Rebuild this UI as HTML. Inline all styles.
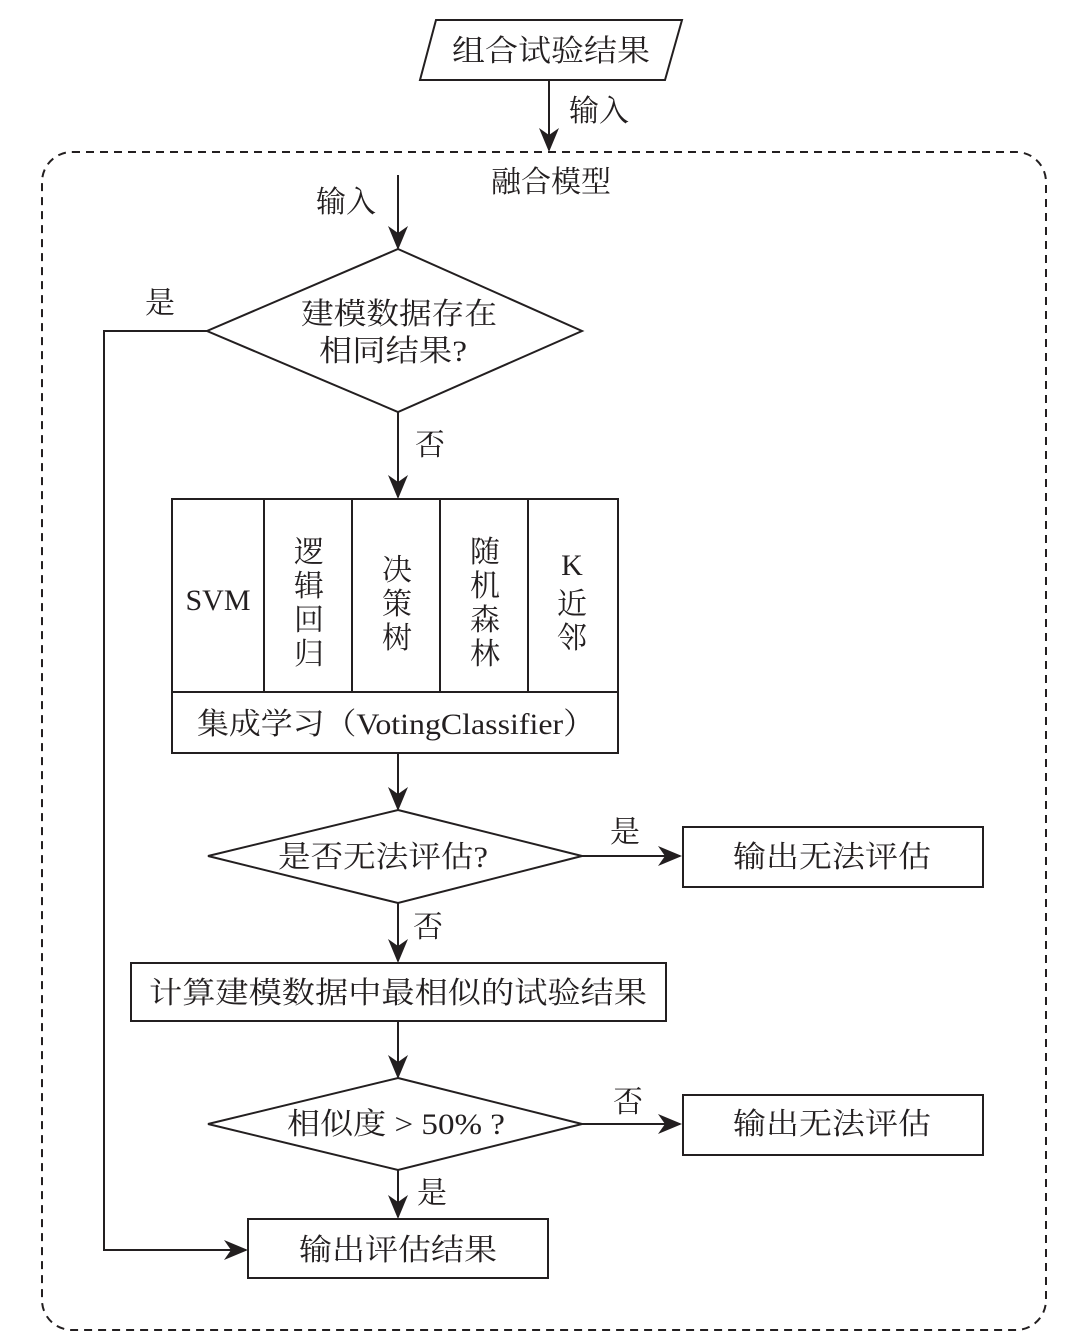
<!DOCTYPE html>
<html><head><meta charset="utf-8"><style>
html,body{margin:0;padding:0;background:#fff;}
svg{display:block;}
text{font-family:"Liberation Serif","Noto Serif CJK SC",serif;fill:#231f20;font-size:30px;}
</style></head><body>
<svg width="1088" height="1344" viewBox="0 0 1088 1344" xmlns="http://www.w3.org/2000/svg">
<defs><marker id="a" markerWidth="12" markerHeight="12" refX="11" refY="6" orient="auto" markerUnits="userSpaceOnUse" viewBox="0 0 12 12"><path d="M0,0 L12,6 L0,12 L4,6 Z" fill="#231f20"/></marker>
<marker id="b" markerWidth="24" markerHeight="24" refX="22" refY="12" orient="auto" markerUnits="userSpaceOnUse" viewBox="0 0 24 24"><path d="M0,2 L24,12 L0,22 L7,12 Z" fill="#231f20"/></marker></defs>
<g stroke="#231f20" stroke-width="2" fill="none">
<polygon points="436,20 682,20 665,80 420,80"/>
<rect x="42" y="152" width="1004" height="1178" rx="30" stroke-dasharray="8,6"/>
<line x1="549" y1="80" x2="549" y2="150" marker-end="url(#b)"/>
<line x1="398" y1="175" x2="398" y2="248" marker-end="url(#b)"/>
<polygon points="398,249 582,331 398,412 207,331"/>
<polyline points="207,331 104,331 104,1250 246,1250" marker-end="url(#b)"/>
<line x1="398" y1="412" x2="398" y2="497" marker-end="url(#b)"/>
<rect x="172" y="499" width="446" height="254"/>
<line x1="172" y1="692" x2="618" y2="692"/>
<line x1="264" y1="499" x2="264" y2="692"/>
<line x1="352" y1="499" x2="352" y2="692"/>
<line x1="440" y1="499" x2="440" y2="692"/>
<line x1="528" y1="499" x2="528" y2="692"/>
<line x1="398" y1="753" x2="398" y2="809" marker-end="url(#b)"/>
<polygon points="398,810 582,856 398,903 208,856"/>
<line x1="582" y1="856" x2="680" y2="856" marker-end="url(#b)"/>
<rect x="683" y="827" width="300" height="60"/>
<line x1="398" y1="903" x2="398" y2="961" marker-end="url(#b)"/>
<rect x="131" y="963" width="535" height="58"/>
<line x1="398" y1="1021" x2="398" y2="1077" marker-end="url(#b)"/>
<polygon points="398,1078 582,1124 398,1170 208,1124"/>
<line x1="582" y1="1124" x2="680" y2="1124" marker-end="url(#b)"/>
<rect x="683" y="1095" width="300" height="60"/>
<line x1="398" y1="1170" x2="398" y2="1217" marker-end="url(#b)"/>
<rect x="248" y="1219" width="300" height="59"/>
</g>
<g text-anchor="middle">
<text x="551" y="61" textLength="198" lengthAdjust="spacingAndGlyphs">组合试验结果</text>
<text x="599" y="121">输入</text>
<text x="551" y="192">融合模型</text>
<text x="346" y="212">输入</text>
<text x="160" y="313">是</text>
<text x="399" y="324" textLength="196" lengthAdjust="spacingAndGlyphs">建模数据存在</text>
<text x="393" y="361" textLength="148" lengthAdjust="spacingAndGlyphs">相同结果?</text>
<text x="430" y="455">否</text>
<text x="218" y="610">SVM</text>
<text x="309" y="562">逻</text><text x="309" y="596">辑</text><text x="309" y="630">回</text><text x="309" y="664">归</text>
<text x="397" y="580">决</text><text x="397" y="614">策</text><text x="397" y="648">树</text>
<text x="485" y="562">随</text><text x="485" y="596">机</text><text x="485" y="630">森</text><text x="485" y="664">林</text>
<text x="572" y="575">K</text><text x="572" y="614">近</text><text x="572" y="648">邻</text>
<text x="396" y="734" textLength="398" lengthAdjust="spacingAndGlyphs">集成学习（VotingClassifier）</text>
<text x="383" y="867" textLength="210" lengthAdjust="spacingAndGlyphs">是否无法评估?</text>
<text x="625" y="842">是</text>
<text x="832" y="867" textLength="198" lengthAdjust="spacingAndGlyphs">输出无法评估</text>
<text x="428" y="937">否</text>
<text x="398" y="1003" textLength="498" lengthAdjust="spacingAndGlyphs">计算建模数据中最相似的试验结果</text>
<text x="396" y="1134" textLength="218" lengthAdjust="spacingAndGlyphs">相似度 &gt; 50% ?</text>
<text x="628" y="1112">否</text>
<text x="832" y="1134" textLength="198" lengthAdjust="spacingAndGlyphs">输出无法评估</text>
<text x="432" y="1203">是</text>
<text x="398" y="1260" textLength="198" lengthAdjust="spacingAndGlyphs">输出评估结果</text>
</g>
</svg>
</body></html>
